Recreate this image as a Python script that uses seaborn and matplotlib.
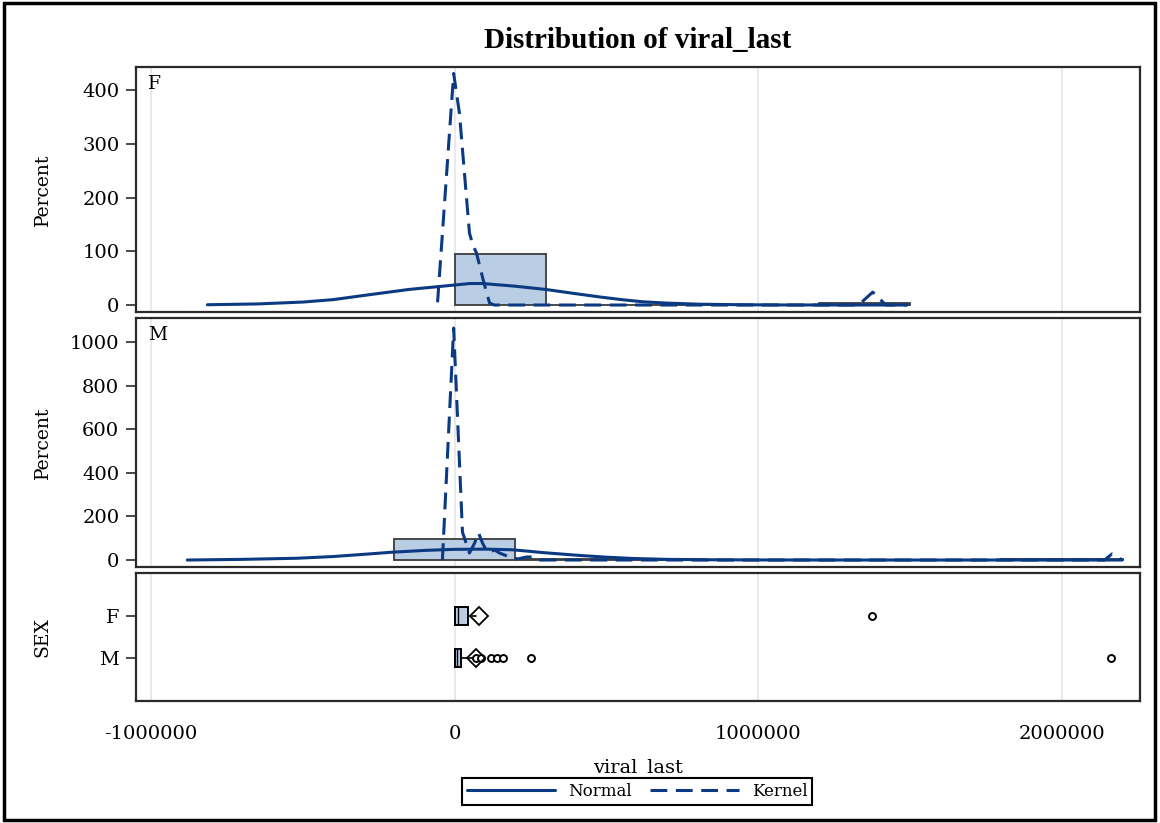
import numpy as np
import pandas as pd
import matplotlib.pyplot as plt
import seaborn as sns
from matplotlib.lines import Line2D
from matplotlib.patches import Rectangle

# ---- data ----
x_ticks = [-1000000, 0, 1000000, 2000000]
x_tick_labels = ["-1000000", "0", "1000000", "2000000"]

# histogram bins (percent)
f_bin_edges = [0, 300000, 600000, 900000, 1200000, 1500000]
f_bin_pct = [95.5, 0, 0, 0, 4.5]
m_bin_edges = [-200000, 200000, 600000, 1000000, 1400000, 1800000, 2200000]
m_bin_pct = [95.0, 2.5, 0, 0, 0, 2.5]

# normal fit curves
f_norm_x = [-814000, -650000, -500000, -400000, -283000, -150000, -40000, 50000, 92000,
            200000, 300000, 400000, 478000, 550000, 620000, 700000, 807000, 950000, 1080000, 1490000]
f_norm_y = [0.5, 2, 5.5, 10, 19, 29, 35, 40, 40, 35, 29, 21, 15, 10, 6, 3.5, 1.5, 0.5, 0.1, 0]
m_norm_x = [-880000, -700000, -521000, -400000, -300000, -204000, -100000, 0, 100000, 191000,
            300000, 412000, 500000, 590000, 700000, 850000, 1000000, 1300000, 2198000]
m_norm_y = [0, 3, 8, 16, 26, 36, 44, 49, 50, 47, 33, 21, 13, 7, 3, 1.2, 0.4, 0, 0]

# kernel density curves
f_kern_x = [-56000, -3000, 16000, 49000, 60000, 72000, 95000, 115000, 130000,
            1330000, 1377000, 1420000, 1490000]
f_kern_y = [5, 431, 357, 134, 112, 97, 45, 4, 0, 0, 24, 0, 0]
m_kern_x = [-40000, -3000, 26000, 49000, 66000, 79000, 92000, 109000, 132000, 148000, 181000,
            208000, 237000, 257000, 280000, 2140000, 2165000, 2198000]
m_kern_y = [0, 1064, 128, 32, 78, 124, 78, 32, 46, 32, 14, 5, 14, 14, 0, 0, 28, 0]

# box plot summary per SEX
sex_levels = ["F", "M"]
box_q1 = [2000, 2000]
box_med = [10000, 8000]
box_q3 = [43000, 20000]
box_whislo = [0, 0]
box_whishi = [72000, 60000]
box_mean = [80000, 69000]
box_fliers = [[1374000],
              [71500, 88000, 121000, 139000, 161000, 253000, 2161000]]

# ---- style ----
sns.set_style("white")
plt.rcParams["font.family"] = ["DejaVu Serif"]
plt.rcParams["text.color"] = "black"
plt.rcParams["axes.labelcolor"] = "black"
plt.rcParams["xtick.color"] = "black"
plt.rcParams["ytick.color"] = "black"
line_col = "#0b3a82"
bar_col = "#b9cde5"
edge_col = "#3c3c3c"
frame_col = "#2a2a2a"
xlim = (-1049000, 2257000)

fig = plt.figure(figsize=(11.6, 8.23), dpi=100)
W, H = 1160, 823


def add_panel(top, bottom):
    return fig.add_axes([136 / W, 1 - bottom / H, (1140 - 136) / W, (bottom - top) / H])


ax_f = add_panel(67, 312)
ax_m = add_panel(318, 567)
ax_b = add_panel(573, 701)

kern_style = (0, (5.5, 2.8))

for ax, edges, pct, nx, ny, kx, ky, lab, ylim, yt in [
    (ax_f, f_bin_edges, f_bin_pct, f_norm_x, f_norm_y, f_kern_x, f_kern_y, "F", (-13, 443), [0, 100, 200, 300, 400]),
    (ax_m, m_bin_edges, m_bin_pct, m_norm_x, m_norm_y, m_kern_x, m_kern_y, "M", (-32, 1110), [0, 200, 400, 600, 800, 1000]),
]:
    centers = [(a + b) / 2 for a, b in zip(edges[:-1], edges[1:])]
    sns.histplot(x=centers, weights=pct, bins=edges, ax=ax, color=bar_col,
                 edgecolor=edge_col, linewidth=1.3, alpha=1)
    sns.lineplot(x=nx, y=ny, ax=ax, color=line_col, linewidth=2.2, sort=False, estimator=None)
    sns.lineplot(x=kx, y=ky, ax=ax, color=line_col, linewidth=2.2, sort=False, estimator=None,
                 linestyle=kern_style)
    ax.set_ylim(*ylim)
    ax.set_yticks(yt)
    ax.set_ylabel("Percent", fontsize=13.5)
    ax.yaxis.set_label_coords(-0.084, 0.5)
    ax.tick_params(axis="x", bottom=False, labelbottom=False)
    ax.text(0.012, 0.93, lab, transform=ax.transAxes, ha="left", va="center", fontsize=13.5)

# box plot panel
stats = []
for i in range(len(sex_levels)):
    stats.append(dict(label=sex_levels[i], q1=box_q1[i], med=box_med[i], q3=box_q3[i],
                      whislo=box_whislo[i], whishi=box_whishi[i], mean=box_mean[i],
                      fliers=box_fliers[i]))
ax_b.bxp(stats, positions=[0, 1], orientation="horizontal", widths=0.42, patch_artist=True,
         showmeans=True, showcaps=False,
         boxprops=dict(facecolor=bar_col, edgecolor="black", linewidth=1.4),
         whiskerprops=dict(color="black", linewidth=1.2),
         medianprops=dict(color="black", linewidth=1.0),
         meanprops=dict(marker="D", markerfacecolor="none", markeredgecolor="black",
                        markersize=9, markeredgewidth=1.3),
         flierprops=dict(marker="o", markerfacecolor="white", markeredgecolor="black",
                         markersize=5, markeredgewidth=1.4))
ax_b.set_ylim(2.02, -1.02)
ax_b.set_yticks([0, 1])
ax_b.set_yticklabels(sex_levels)
ax_b.set_ylabel("SEX", fontsize=13.5)
ax_b.yaxis.set_label_coords(-0.084, 0.5)
ax_b.set_xticks(x_ticks)
ax_b.set_xticklabels(x_tick_labels)
ax_b.set_xlabel("viral_last", fontsize=14)
ax_b.xaxis.set_label_coords(0.5, -0.445)
ax_b.tick_params(axis="x", length=8, width=1.2, pad=9, labelsize=14, color=frame_col)

for ax in (ax_f, ax_m, ax_b):
    ax.set_xlim(*xlim)
    ax.set_xticks(x_ticks)
    ax.grid(axis="x", color="#e6e6e6", linewidth=1.2)
    ax.grid(axis="y", visible=False)
    ax.set_axisbelow(True)
    ax.tick_params(axis="y", left=True, length=7.5, width=1.2, pad=4.5, labelsize=14, color=frame_col)
    for sp in ax.spines.values():
        sp.set_visible(True)
        sp.set_color(frame_col)
        sp.set_linewidth(1.6)

# title
fig.text(638 / W, 1 - 40 / H, "Distribution of viral_last", ha="center", va="center",
         fontsize=21, fontweight="bold", family=["Liberation Serif", "DejaVu Serif"])

# legend
handles = [Line2D([], [], color=line_col, linewidth=2.2),
           Line2D([], [], color=line_col, linewidth=2.2, linestyle=kern_style)]
leg = fig.legend(handles, ["Normal", "Kernel"], loc="center", bbox_to_anchor=(637 / W, 1 - 791.5 / H),
                 ncol=2, frameon=True, fancybox=False, edgecolor="black", framealpha=1,
                 fontsize=12, handlelength=5.3, handletextpad=0.8, columnspacing=1.1,
                 borderpad=0.3)
leg.get_frame().set_linewidth(1.5)

# outer border
fig.patches.append(Rectangle((4 / W, 3 / H), (1155 - 4) / W, (820 - 3) / H, transform=fig.transFigure,
                             fill=False, edgecolor="black", linewidth=2.5))

fig.savefig("out.png", dpi=100)
